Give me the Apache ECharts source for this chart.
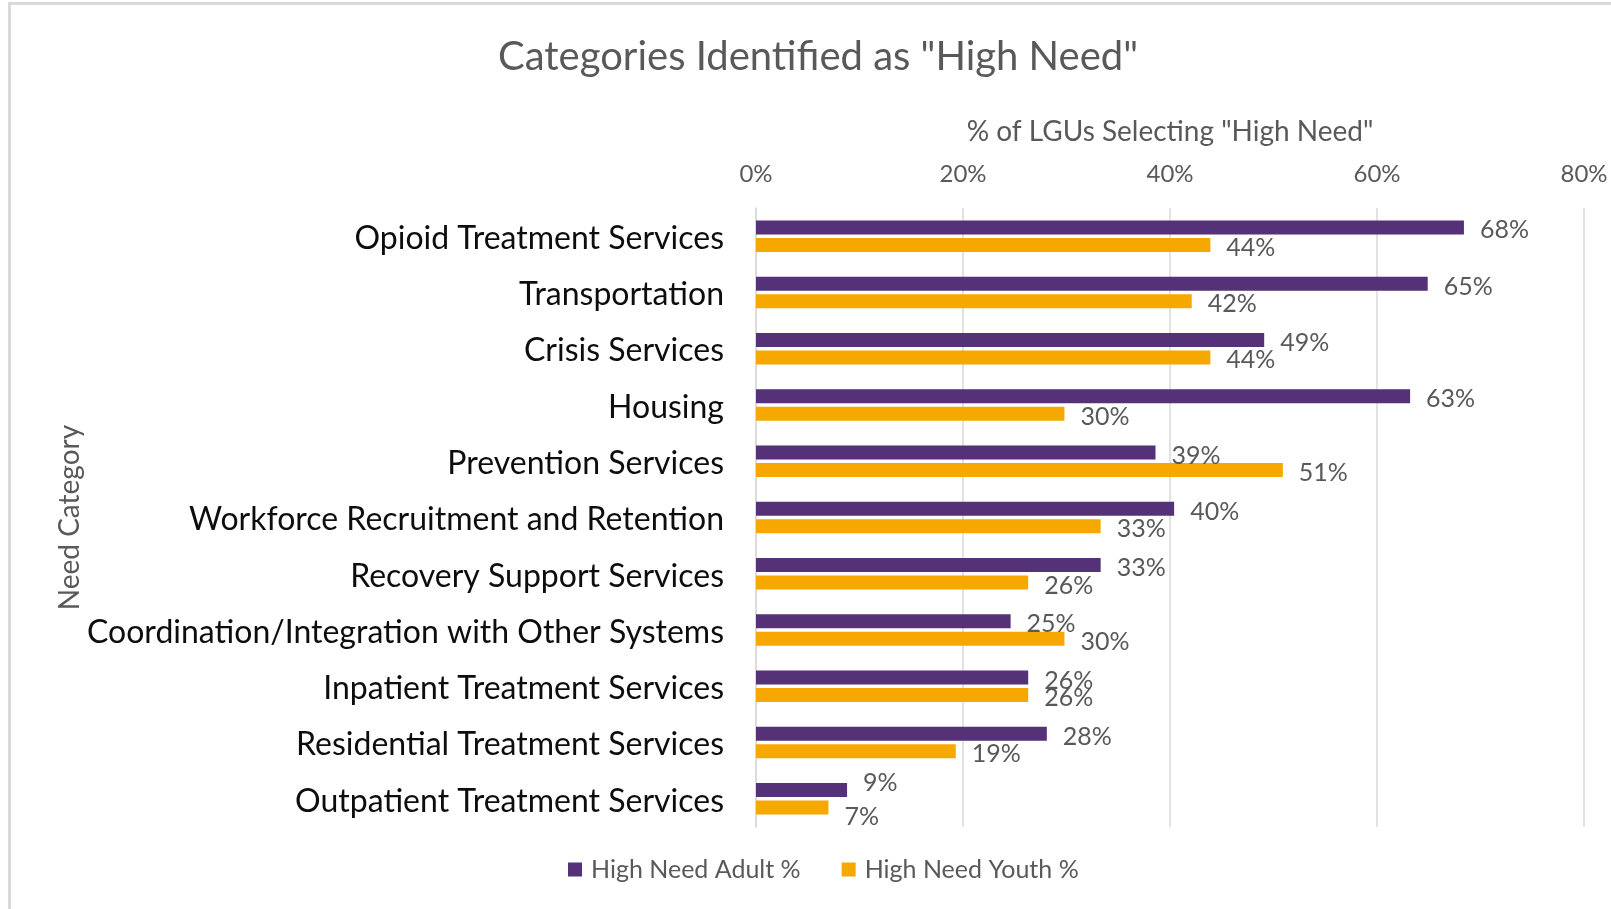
<!DOCTYPE html>
<html>
<head>
<meta charset="utf-8">
<script src="https://cdn.jsdelivr.net/npm/echarts@6/dist/echarts.min.js"></script>
<style>
html,body{margin:0;padding:0;background:#fff;}
#chart{width:1611px;height:909px;}
</style>
</head>
<body>
<div id="chart"></div>
<script>
const categories = [
  "Opioid Treatment Services",
  "Transportation",
  "Crisis Services",
  "Housing",
  "Prevention Services",
  "Workforce Recruitment and Retention",
  "Recovery Support Services",
  "Coordination/Integration with Other Systems",
  "Inpatient Treatment Services",
  "Residential Treatment Services",
  "Outpatient Treatment Services"
];
const adultValues = [68.4, 64.9, 49.1, 63.2, 38.6, 40.4, 33.3, 24.6, 26.3, 28.1, 8.8];
const youthValues = [43.9, 42.1, 43.9, 29.8, 50.9, 33.3, 26.3, 29.8, 26.3, 19.3, 7.0];
const seriesNames = ["High Need Adult %", "High Need Youth %"];
const xTicks = [0, 20, 40, 60, 80];

const FONT = "Lato";
const chart = echarts.init(document.getElementById('chart'), null, {renderer: 'canvas'});
const labelCfg = {
  show: true,
  position: 'right',
  distance: 16,
  color: '#595959',
  fontFamily: FONT,
  fontSize: 25,
  formatter: p => Math.round(p.value) + '%'
};
// Excel nudged the crowded last pair of labels apart
const nudge = (p) => {
  const last = p.dataIndex === categories.length - 1;
  if (last) return {dy: p.seriesIndex === 0 ? -7 : 9};
  return {dy: 3};
};
chart.setOption({
  animation: false,
  backgroundColor: '#ffffff',
  graphic: [{
    type: 'rect',
    silent: true,
    shape: {x: 9.5, y: 3.5, width: 1700, height: 1000},
    style: {fill: 'none', stroke: '#D9D9D9', lineWidth: 3}
  }],
  title: {
    text: 'Categories Identified as "High Need"',
    left: 813,
    top: 32,
    textAlign: 'center',
    textStyle: {fontFamily: FONT, fontSize: 40, fontWeight: 'normal', color: '#595959'}
  },
  legend: {
    data: seriesNames,
    left: 568,
    top: 857,
    padding: 0,
    icon: 'rect',
    itemWidth: 14,
    itemHeight: 14,
    itemGap: 41,
    textStyle: {fontFamily: FONT, fontSize: 25, color: '#595959', padding: [0, 0, 0, 4]}
  },
  grid: {left: 756, right: 27, top: 208, bottom: 82, containLabel: false},
  xAxis: {
    type: 'value',
    position: 'top',
    min: xTicks[0],
    max: xTicks[xTicks.length - 1],
    interval: 20,
    name: '% of LGUs Selecting "High Need"',
    nameLocation: 'middle',
    nameGap: 62,
    nameMoveOverlap: false,
    nameTextStyle: {fontFamily: FONT, fontSize: 28, color: '#595959'},
    axisLine: {show: false},
    axisTick: {show: false},
    axisLabel: {fontFamily: FONT, fontSize: 24, color: '#595959', margin: 22, formatter: v => v + '%'},
    splitLine: {show: true, lineStyle: {color: '#D9D9D9', width: 1.5}}
  },
  yAxis: {
    type: 'category',
    data: categories,
    inverse: true,
    name: 'Need Category',
    nameLocation: 'middle',
    nameGap: 672,
    nameRotate: 90,
    nameMoveOverlap: false,
    nameTextStyle: {fontFamily: FONT, fontSize: 28, color: '#595959'},
    axisLine: {show: true, lineStyle: {color: '#D9D9D9', width: 1.5}},
    axisTick: {show: false},
    axisLabel: {
      margin: 32,
      formatter: v => '{a|' + v + '}',
      rich: {a: {fontFamily: FONT, fontSize: 32, color: '#0d0d0d', padding: [5, 0, 0, 0]}}
    }
  },
  series: [
    {
      name: seriesNames[0],
      type: 'bar',
      data: adultValues,
      barWidth: 14,
      barGap: '25%',
      itemStyle: {color: '#553177'},
      label: labelCfg,
      labelLayout: nudge
    },
    {
      name: seriesNames[1],
      type: 'bar',
      data: youthValues,
      barWidth: 14,
      barGap: '25%',
      itemStyle: {color: '#F6A800'},
      label: labelCfg,
      labelLayout: nudge
    }
  ]
});
</script>
</body>
</html>
